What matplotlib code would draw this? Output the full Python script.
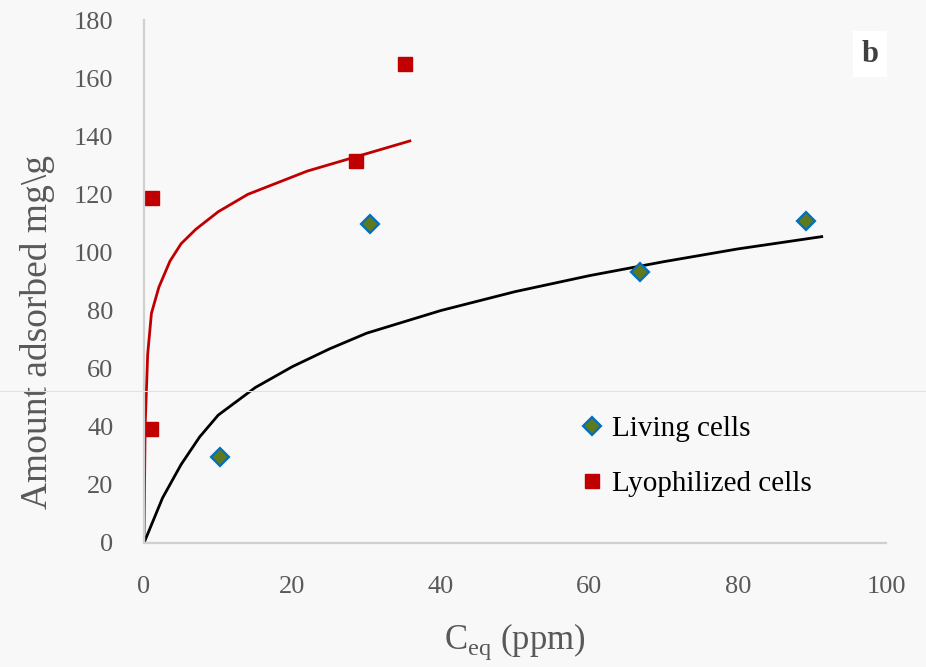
import numpy as np
import matplotlib
matplotlib.use("Agg")
import matplotlib.pyplot as plt
from matplotlib.lines import Line2D

plt.rcParams['font.family'] = ['Liberation Serif', 'DejaVu Serif']
plt.rcParams['mathtext.fontset'] = 'custom'
plt.rcParams['mathtext.rm'] = 'Liberation Serif'

# Измеренные точки
living_x = [10.2, 30.4, 66.8, 89.2]
living_y = [29.7, 109.7, 93.4, 110.9]
lyo_x = [0.9, 1.1, 28.5, 35.1]
lyo_y = [39.1, 118.9, 131.4, 164.8]

# Линии аппроксимации
living_fit_x = [0, 2.5, 5, 7.5, 10, 15, 20, 25, 30, 40, 50, 60, 70, 80, 91.5]
living_fit_y = [0, 15.5, 27, 36.5, 44, 53.5, 60.7, 66.8, 72.2, 80, 86.5, 92, 96.8, 101.2, 105.5]
lyo_fit_x = [0, 0.15, 0.5, 1.0, 2.0, 3.5, 5.0, 7.0, 10, 14, 18, 22, 26, 30, 36]
lyo_fit_y = [0, 40, 65, 79, 88, 97, 103, 108, 114, 120, 124, 128, 131, 134, 138.5]

xticks = [0, 20, 40, 60, 80, 100]
yticks = [0, 20, 40, 60, 80, 100, 120, 140, 160, 180]

fig = plt.figure(figsize=(9.26, 6.67), dpi=100, facecolor='#f8f8f8')
ax = fig.add_axes([0.1555, 0.186, 0.8015, 0.784])
ax.set_facecolor('#f8f8f8')

ax.plot(living_fit_x, living_fit_y, color='black', lw=2.0, solid_capstyle='butt')
ax.plot(lyo_fit_x, lyo_fit_y, color='#c00000', lw=2.0, solid_capstyle='butt')
ax.plot(living_x, living_y, 'D', ms=9.5, mfc='#5f7a1e', mec='#0070c0', mew=1.6, ls='none')
ax.plot(lyo_x, lyo_y, 's', ms=10.5, mfc='#c00000', mec='#c00000', ls='none')

ax.set_xlim(0, 100)
ax.set_ylim(0, 180)
ax.set_xticks(xticks)
ax.set_yticks(yticks)
ax.tick_params(length=0, labelsize=19, colors='#595959')
ax.tick_params(axis='x', pad=24)
ax.tick_params(axis='y', pad=22)

for s in ['top', 'right']:
    ax.spines[s].set_visible(False)
for s in ['left', 'bottom']:
    ax.spines[s].set_color('#d0d0d0')
    ax.spines[s].set_linewidth(1.6)

ax.set_ylabel('Amount adsorbed mg\\g', fontsize=27, color='#595959')
ax.yaxis.set_label_coords(-0.12, 0.403)
ax.set_xlabel(r'C$_{\mathrm{eq}}$ (ppm)', fontsize=25, color='#595959')
ax.xaxis.set_label_coords(0.5, -0.15)

handles = [
    Line2D([], [], marker='D', ms=9.5, mfc='#5f7a1e', mec='#0070c0', mew=1.6, ls='none'),
    Line2D([], [], marker='s', ms=10.5, mfc='#c00000', mec='#c00000', ls='none'),
]
ax.legend(handles, ['Living cells', 'Lyophilized cells'], loc='upper left',
          bbox_to_anchor=(0.548, 0.294), frameon=False, fontsize=21,
          handletextpad=0.2, labelspacing=1.0, handlelength=1.0)

ax.text(0.978, 0.935, 'b', transform=ax.transAxes, fontsize=22, fontweight='bold',
        color='#404040', ha='center', va='center',
        bbox=dict(facecolor='white', edgecolor='none', pad=6))

fig.add_artist(Line2D([0, 1], [0.414, 0.414], transform=fig.transFigure,
                      color='#efdcd2', lw=0.8))

fig.savefig('out.png', dpi=100, facecolor=fig.get_facecolor())
